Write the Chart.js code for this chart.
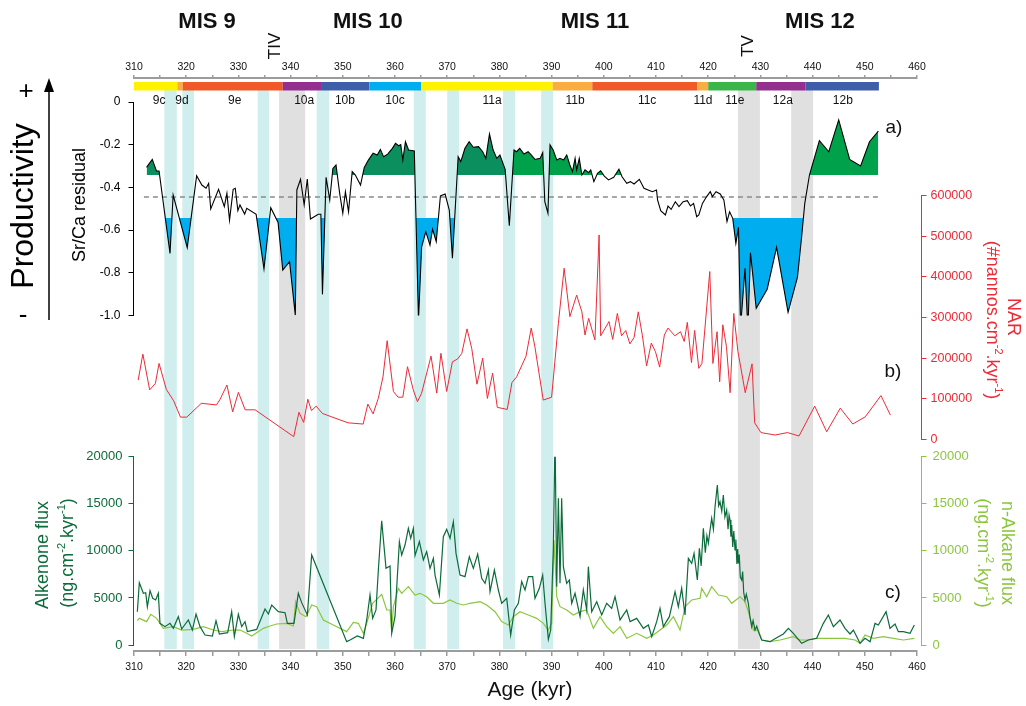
<!DOCTYPE html>
<html>
<head>
<meta charset="utf-8">
<script src="https://cdn.jsdelivr.net/npm/chart.js@4.4.1/dist/chart.umd.min.js"></script>
<style>
  html, body { margin: 0; background: #fff; }
  #wrap { position: relative; width: 1026px; height: 706px; }
</style>
</head>
<body>
<div id="wrap"><canvas id="fig" width="1026" height="706"></canvas></div>
<script>
const FONT = "'Liberation Sans', Arial, Helvetica, sans-serif";
Chart.defaults.font.family = FONT;

// ---- a) Sr/Ca residual ----
const srCaAge = [
  312.4, 313.5, 314.3, 314.8, 316.9, 317.5, 320.2, 322.0, 323.0, 323.8, 324.3, 324.7, 326.2, 327.3, 327.8,
  328.3, 329.0, 329.4, 329.9, 330.3, 331.2, 331.6, 333.4, 334.9, 336.2, 337.6, 338.5, 339.8, 340.9, 341.2,
  341.9, 342.6, 343.2, 343.8, 345.3, 345.8, 346.1, 346.8, 347.5, 348.1, 348.7, 349.4, 350.0, 350.5, 351.1,
  351.8, 352.4, 353.4, 354.1, 354.9, 355.8, 356.6, 357.2, 357.8, 358.6, 359.5, 360.1, 360.7, 361.1, 361.5,
  362.0, 362.6, 363.7, 364.5, 365.1, 365.9, 366.7, 367.2, 367.9, 368.7, 369.6, 370.4, 371.0, 372.1, 372.6,
  373.4, 374.2, 375.0, 376.0, 376.8, 377.4, 378.1, 378.8, 379.5, 380.1, 381.1, 381.9, 382.8, 383.3, 383.9,
  384.7, 385.5, 386.1, 386.8, 387.8, 388.3, 388.7, 389.3, 389.7, 390.3, 391.0, 391.6, 392.3, 392.9, 393.5,
  394.0, 394.5, 394.8, 395.3, 395.8, 396.4, 397.1, 397.5, 398.1, 398.8, 399.4, 400.1, 400.9, 401.9, 402.9,
  403.5, 404.4, 405.1, 405.8, 406.8, 407.7, 409.3, 410.1, 410.3, 410.9, 411.8, 412.3, 412.9, 413.7, 414.4,
  415.2, 416.0, 416.6, 417.2, 417.8, 418.2, 418.9, 419.7, 420.4, 420.8, 421.5, 422.3, 423.0, 423.6, 424.1,
  424.7, 425.3, 425.8, 426.2, 427.05, 427.6, 428.1, 429.2, 431.3, 433.1, 435.3, 437.1, 437.9, 438.5, 439.4,
  441.3, 443.1, 445.0, 447.1, 449.2, 450.9, 452.6
];
const srCaResidual = [
  -0.306, -0.269, -0.323, -0.323, -0.709, -0.436, -0.682, -0.345, -0.389, -0.404, -0.381, -0.501, -0.409, -0.490, -0.428,
  -0.553, -0.409, -0.404, -0.509, -0.482, -0.525, -0.498, -0.526, -0.782, -0.495, -0.564, -0.787, -0.748, -0.998, -0.412,
  -0.362, -0.482, -0.361, -0.548, -0.526, -0.526, -0.901, -0.353, -0.459, -0.311, -0.295, -0.428, -0.521, -0.420, -0.514,
  -0.326, -0.342, -0.389, -0.308, -0.272, -0.240, -0.248, -0.222, -0.256, -0.244, -0.217, -0.194, -0.205, -0.200, -0.272,
  -0.186, -0.225, -0.229, -1.021, -0.678, -0.607, -0.670, -0.596, -0.654, -0.440, -0.431, -0.506, -0.732, -0.256, -0.279,
  -0.217, -0.186, -0.212, -0.209, -0.233, -0.264, -0.150, -0.225, -0.264, -0.248, -0.315, -0.579, -0.225, -0.233, -0.217,
  -0.244, -0.233, -0.248, -0.269, -0.264, -0.237, -0.467, -0.521, -0.201, -0.225, -0.272, -0.264, -0.272, -0.248, -0.295,
  -0.326, -0.264, -0.318, -0.264, -0.342, -0.318, -0.331, -0.318, -0.373, -0.334, -0.322, -0.347, -0.365, -0.353, -0.315,
  -0.350, -0.381, -0.373, -0.384, -0.362, -0.404, -0.420, -0.412, -0.459, -0.509, -0.529, -0.487, -0.503, -0.467, -0.490,
  -0.467, -0.462, -0.487, -0.475, -0.537, -0.529, -0.475, -0.443, -0.420, -0.443, -0.420, -0.431, -0.459, -0.560, -0.514,
  -0.545, -0.662, -0.587, -1.055, -0.779, -1.068, -0.706, -0.966, -0.877, -0.681, -0.985, -0.820, -0.631, -0.475, -0.342,
  -0.181, -0.233, -0.084, -0.269, -0.300, -0.186, -0.136
];
const srCaMean = -0.445;
const srCaMeanSpan = [311.9, 452.6];
const highLevel = -0.342;   // green fill above this
const lowLevel = -0.5433;   // blue fill below this
const greenSplitAge = 381.9;

// ---- b) nannofossil accumulation rate ----
const narAge = [
  310.8, 311.7, 313.0, 314.1, 314.8, 316.2, 317.6, 318.9, 320.1, 322.9, 325.8, 326.5, 327.8, 328.9, 330.0,
  331.3, 333.2, 340.6, 341.6, 342.5, 343.3, 344.0, 344.9, 346.1, 351.0, 353.9, 354.8, 355.8, 356.8, 357.7,
  358.5, 359.7, 360.6, 361.5, 362.4, 363.5, 364.3, 365.1, 366.9, 368.0, 368.8, 369.9, 371.0, 372.0, 372.8,
  373.8, 374.7, 375.7, 376.8, 377.7, 378.7, 379.6, 381.5, 382.4, 383.3, 385.1, 386.1, 386.8, 388.4, 390.0,
  391.3, 392.4, 393.5, 394.8, 395.8, 396.4, 397.1, 398.3, 399.1, 399.4, 401.0, 401.7, 402.6, 403.4, 404.2,
  405.0, 405.8, 406.6, 407.4, 408.2, 409.1, 409.9, 410.7, 411.6, 412.3, 413.6, 414.7, 415.4, 416.0, 416.8,
  417.4, 418.2, 418.8, 420.3, 420.9, 421.7, 422.2, 422.8, 423.5, 424.2, 424.9, 425.7, 427.1, 428.4, 428.9,
  430.1, 432.8, 435.2, 437.4, 440.4, 442.7, 445.3, 447.7, 450.1, 453.1, 454.9
];
const narFlux = [
  146000, 210000, 122000, 138000, 187000, 123000, 95000, 55000, 55000, 89000, 85000, 99000, 134000, 68000, 116000,
  73000, 73000, 7000, 67000, 42000, 99000, 71000, 82000, 64000, 41000, 38000, 87000, 63000, 101000, 154000,
  243000, 118000, 104000, 104000, 179000, 122000, 93000, 114000, 205000, 114000, 212000, 118000, 191000, 198000, 212000,
  272000, 224000, 136000, 200000, 101000, 163000, 79000, 74000, 140000, 154000, 205000, 274000, 228000, 97000, 104000,
  286000, 421000, 302000, 355000, 314000, 257000, 298000, 245000, 503000, 255000, 290000, 246000, 310000, 255000, 268000,
  235000, 251000, 314000, 255000, 181000, 237000, 216000, 178000, 257000, 274000, 255000, 265000, 241000, 288000, 189000,
  268000, 175000, 187000, 413000, 187000, 265000, 142000, 282000, 228000, 115000, 310000, 216000, 115000, 186000, 41000,
  17000, 11000, 17000, 8600, 82000, 19000, 77000, 38000, 56000, 108000, 60000
];

// ---- c) alkenone and n-alkane fluxes ----
const alkenoneAge = [
  310.64, 311.02, 311.79, 312.24, 312.56, 313.07, 313.58, 314.15, 314.66, 314.98, 315.94, 316.90, 317.54, 318.49, 319.13,
  320.41, 321.18, 321.88, 322.65, 323.60, 325.01, 325.71, 326.35, 327.95, 328.71, 329.22, 329.99, 330.63, 331.27, 331.72,
  333.50, 335.10, 335.74, 336.38, 337.65, 338.93, 339.38, 340.65, 341.48, 342.12, 343.21, 344.04, 350.74, 351.38, 352.79,
  353.94, 354.58, 355.21, 355.72, 356.36, 356.81, 357.45, 358.28, 359.05, 359.37, 360.00, 360.84, 361.28, 361.92, 362.56,
  363.01, 363.52, 363.84, 364.67, 365.43, 366.07, 366.71, 367.35, 367.67, 368.50, 369.26, 369.90, 370.54, 371.18, 371.69,
  372.46, 373.41, 374.24, 375.01, 375.84, 376.61, 377.25, 377.89, 378.20, 379.04, 379.80, 380.44, 381.40, 382.16, 382.87,
  383.63, 384.27, 384.91, 385.55, 386.38, 386.82, 387.65, 388.29, 388.74, 389.38, 389.83, 390.34, 390.66, 390.98, 391.30,
  391.61, 391.93, 392.25, 392.89, 393.40, 393.85, 394.49, 395.45, 396.08, 396.72, 397.04, 397.68, 398.64, 399.60, 400.55,
  401.51, 402.15, 403.11, 404.39, 405.03, 406.30, 407.58, 408.54, 409.18, 410.13, 410.77, 411.41, 412.56, 413.65, 414.28,
  414.92, 415.56, 416.20, 416.84, 417.29, 417.92, 418.31, 418.65, 419.07, 419.45, 419.75, 420.03, 420.35, 420.67, 421.00,
  421.31, 421.75, 422.00, 422.26, 422.60, 422.90, 423.20, 423.54, 423.80, 424.00, 424.18, 424.35, 424.50, 424.70, 424.90,
  425.14, 425.30, 425.50, 425.65, 425.78, 425.95, 426.15, 426.42, 426.60, 426.80, 427.05, 427.30, 427.69, 428.00, 428.33,
  428.60, 428.97, 429.30, 429.61, 430.25, 431.84, 433.44, 434.40, 435.36, 436.31, 437.91, 439.19, 440.78, 442.06, 443.02,
  443.98, 445.25, 446.21, 447.17, 447.81, 449.09, 450.05, 451.01, 451.96, 452.60, 454.07, 454.83, 455.79, 456.43, 457.39,
  458.67, 459.49
];
const alkenoneFlux = [
  3540, 6620, 5490, 5560, 4070, 5770, 4960, 4780, 5490, 2300, 1950, 2300, 1770, 3010, 1700,
  2660, 1590, 3290, 1950, 1060, 950, 2580, 1170, 1310, 3540, 890, 3260, 1950, 2480, 1420,
  1660, 3820, 3290, 4250, 3540, 3430, 2300, 2300, 5490, 4500, 3190, 9560, 355, 530, 960,
  710, 2660, 5310, 2830, 3720, 7960, 13200, 8140, 8390, 1240, 3010, 10970, 9560, 10620, 12390,
  11330, 12390, 9500, 10970, 9030, 9910, 8140, 9200, 7430, 5310, 11500, 12280, 11330, 13100, 9730,
  7430, 7260, 9380, 8140, 9660, 7080, 6550, 7960, 5660, 7960, 5840, 4430, 4960, 1060, 3720,
  4430, 6730, 5840, 7260, 7260, 4960, 6020, 7430, 4430, 600, 1590, 10440, 22480, 6190, 15580,
  6550, 15580, 8320, 6550, 6900, 4430, 5490, 3010, 5840, 3720, 8320, 3540, 4600, 3190, 4430,
  3890, 5130, 2660, 3720, 2480, 2830, 1770, 2120, 880, 2480, 3890, 1950, 3010, 5660, 4070,
  6020, 3190, 9200, 8670, 9730, 6900, 10270, 8400, 12390, 9800, 11600, 10800, 12200, 13450, 12300,
  14690, 16990, 14800, 15220, 14200, 15930, 13600, 14340, 12300, 13800, 13270, 11500, 12740, 10400, 12100,
  10090, 11200, 8600, 10200, 8670, 9600, 7200, 6900, 7800, 5600, 4780, 5400, 4430, 3000, 1950,
  2600, 1590, 2000, 1420, 530, 350, 880, 1170, 1770, 1240, 180, 530, 710, 2300, 3190,
  1950, 2660, 1770, 1170, 1590, 180, 710, 350, 2300, 2120, 3540, 1770, 2230, 1420, 1420,
  1240, 2120
];
const alkaneAge = [
  310.64, 311.02, 312.43, 313.20, 314.34, 315.62, 317.54, 319.13, 321.37, 323.29, 325.20, 326.80, 329.03, 330.31, 331.59,
  332.55, 334.78, 336.06, 337.33, 339.25, 340.53, 340.97, 341.80, 342.95, 344.04, 345.00, 346.27, 348.19, 350.74, 352.02,
  352.98, 353.94, 354.58, 355.72, 357.45, 358.41, 359.05, 359.37, 359.69, 360.64, 361.28, 362.56, 363.84, 364.79, 366.07,
  367.35, 369.26, 370.54, 371.82, 373.10, 374.37, 376.29, 377.57, 379.16, 380.44, 381.72, 382.67, 383.95, 385.55, 387.14,
  388.42, 389.38, 390.02, 390.46, 390.98, 391.61, 392.89, 394.17, 395.45, 396.72, 398.00, 399.28, 400.55, 401.83, 403.11,
  404.39, 406.30, 408.22, 409.50, 410.77, 412.05, 413.33, 414.60, 415.56, 416.84, 418.44, 418.75, 419.71, 420.67, 421.95,
  423.54, 424.50, 426.10, 427.05, 427.69, 428.65, 429.61, 430.25, 431.84, 433.76, 436.31, 437.59, 438.87, 440.78, 442.70,
  444.30, 446.21, 448.13, 449.09, 450.05, 451.65, 453.56, 455.47, 457.39, 459.49
];
const alkaneFlux = [
  2580, 2830, 2480, 3260, 2830, 1770, 1950, 1590, 1660, 1950, 1590, 1420, 1590, 1590, 1240,
  960, 1770, 2020, 2230, 2300, 2020, 4600, 3360, 3010, 4250, 4070, 2660, 2120, 1420, 2410,
  2300, 1240, 2300, 4430, 5380, 3720, 3720, 1420, 4070, 6020, 5490, 6200, 5310, 5490, 5130,
  4430, 4430, 4780, 4430, 4250, 4430, 4600, 4250, 3540, 2480, 2120, 3010, 3540, 3190, 2830,
  2300, 1590, 2300, 11150, 5130, 4070, 3720, 3190, 3540, 3720, 1770, 3010, 1950, 1240, 1950,
  710, 1240, 710, 1060, 1590, 2120, 3010, 1590, 4070, 4780, 4960, 6020, 5130, 6200, 5310,
  5130, 4430, 5130, 4600, 3540, 1590, 1590, 530, 350, 530, 880, 530, 530, 710, 710,
  710, 710, 530, 180, 1060, 710, 880, 710, 530, 710
];

// ---- stratigraphy ----
const cyanBands = [[315.8, 318.2], [319.25, 321.5], [333.7, 335.9], [345.0, 347.4], [363.6, 365.9],
                   [370.0, 372.3], [380.7, 383.0], [388.0, 390.3]];
const greyBands = [[337.8, 342.8], [425.7, 429.9], [435.9, 440.1]];
const misEdges = [310, 318.3, 319.35, 338.5, 346.0, 355.1, 365.0, 390.2, 397.8, 417.9, 420.0, 429.2, 438.6, 452.7];
const misColours = ['#fff200', '#fbad42', '#f05a28', '#93308f', '#3e5eaa', '#00aeef', '#fff200',
                    '#fbad42', '#f05a28', '#fbad42', '#39b54a', '#93308f', '#3e5eaa'];
const subStages = ['9c', '9d', '9e', '10a', '10b', '10c', '11a', '11b', '11c', '11d', '11e', '12a', '12b'];
const subStageAge = [314.8, 319.2, 329.3, 342.6, 350.4, 360.0, 378.6, 394.5, 408.3, 419.0, 425.1, 434.3, 445.8];
const misNames = ['MIS 9', 'MIS 10', 'MIS 11', 'MIS 12'];
const misNameAge = [324.0, 354.8, 398.3, 441.4];
const terminations = [['TIV', 337.1], ['TV', 427.6]];

const pts = (xs, ys) => xs.map((x, i) => ({ x, y: ys[i] }));
const srCaPts = pts(srCaAge, srCaResidual);

const RED = '#ed2b37', DARK = '#0b6b3a', LIGHT = '#8cc63f';
const CLEAR = 'rgba(0,0,0,0)';

// y axes share one chart area; each one is moved onto its own panel band
const placeAxes = {
  id: 'placeAxes',
  afterLayout(chart) {
    const s = chart.scales;
    const put = (sc, l, t, r, b) => {
      sc.left = l; sc.top = t; sc.right = r; sc.bottom = b;
      sc.width = r - l; sc.height = b - t;
      sc.configure();
    };
    put(s.ya, 60, 102, 133.5, 315.5);
    put(s.yb, 921.5, 195.5, 990, 439.5);
    put(s.yc, 60, 456.7, 133.5, 645);
    put(s.yd, 921.5, 456.7, 990, 645);
    put(s.x, s.x.left, 651, s.x.right, 690);
    put(s.xt, s.xt.left, 50, s.xt.right, 78);
  }
};

function richText(ctx, parts, cx, cy, rot, size, colour, bold) {
  ctx.save();
  ctx.translate(cx, cy);
  ctx.rotate(rot);
  ctx.fillStyle = colour;
  ctx.textBaseline = 'middle';
  ctx.textAlign = 'left';
  const w = bold ? 'bold ' : '';
  const main = `${w}${size}px ${FONT}`, sup = `${Math.round(size * 0.62)}px ${FONT}`;
  let total = 0;
  for (const [t, s] of parts) { ctx.font = s ? sup : main; total += ctx.measureText(t).width; }
  let x = -total / 2;
  for (const [t, s] of parts) {
    ctx.font = s ? sup : main;
    ctx.fillText(t, x, s ? -size * 0.36 : 0);
    x += ctx.measureText(t).width;
  }
  ctx.restore();
}
const plain = (t) => [[t, 0]];
const fluxUnit = [['(ng.cm', 0], ['-2', 1], ['.kyr', 0], ['-1', 1], [')', 0]];
const narUnit = [['(#nannos.cm', 0], ['-2', 1], ['.kyr', 0], ['-1', 1], [')', 0]];

const decor = {
  id: 'decor',
  beforeDraw(chart) {
    const { ctx } = chart;
    const x = chart.scales.x;
    const px = (v) => x.getPixelForValue(v);
    ctx.save();
    ctx.fillStyle = '#fff';
    ctx.fillRect(0, 0, chart.width, chart.height);
    ctx.fillStyle = '#d0eeee';
    for (const [a, b] of cyanBands) ctx.fillRect(px(a), 90, px(b) - px(a), 559);
    ctx.fillStyle = '#e0e0e0';
    for (const [a, b] of greyBands) ctx.fillRect(px(a), 90, px(b) - px(a), 559);
    for (let i = 0; i < misColours.length; i++) {
      ctx.fillStyle = misColours[i];
      ctx.fillRect(px(misEdges[i]), 82, px(misEdges[i + 1]) - px(misEdges[i]), 8.5);
    }
    ctx.restore();
  },
  afterDraw(chart) {
    const { ctx } = chart;
    const x = chart.scales.x;
    const px = (v) => x.getPixelForValue(v);
    ctx.save();
    ctx.fillStyle = '#111';
    ctx.textAlign = 'center';
    ctx.textBaseline = 'middle';
    ctx.font = `bold 22px ${FONT}`;
    misNames.forEach((m, i) => ctx.fillText(m, px(misNameAge[i]), 22));
    ctx.font = `12px ${FONT}`;
    subStages.forEach((m, i) => ctx.fillText(m, px(subStageAge[i]), 101));
    for (const [t, a] of terminations) richText(ctx, plain(t), px(a), 46, -Math.PI / 2, 17, '#111');
    ctx.font = `19px ${FONT}`;
    ctx.fillText('a)', 894, 128);
    ctx.fillText('b)', 893, 372);
    ctx.fillText('c)', 893, 593);
    ctx.font = `21px ${FONT}`;
    ctx.fillText('Age (kyr)', 530, 690);

    // productivity arrow
    ctx.strokeStyle = '#000';
    ctx.lineWidth = 1.5;
    ctx.beginPath(); ctx.moveTo(49, 320); ctx.lineTo(49, 88); ctx.stroke();
    ctx.fillStyle = '#000';
    ctx.beginPath(); ctx.moveTo(49, 78); ctx.lineTo(44, 92); ctx.lineTo(54, 92); ctx.closePath(); ctx.fill();
    ctx.font = `26px ${FONT}`;
    ctx.fillText('+', 26, 92);
    ctx.fillText('-', 23, 316);
    richText(ctx, plain('Productivity'), 24, 206, -Math.PI / 2, 32, '#000');

    // axis titles
    richText(ctx, plain('Sr/Ca residual'), 80, 205, -Math.PI / 2, 18, '#000');
    richText(ctx, plain('NAR'), 1013, 317, Math.PI / 2, 18, RED);
    richText(ctx, narUnit, 992, 320, Math.PI / 2, 18, RED);
    richText(ctx, plain('Alkenone flux'), 43, 555, -Math.PI / 2, 18, DARK);
    richText(ctx, fluxUnit, 68, 553, -Math.PI / 2, 18, DARK);
    richText(ctx, plain('n-Alkane flux'), 1007, 553, Math.PI / 2, 18, LIGHT);
    richText(ctx, fluxUnit, 983, 553, Math.PI / 2, 18, LIGHT);
    ctx.restore();
  }
};

const noWidth = (s) => { s.width = 0; };
const noHeight = (s) => { s.height = 0; };
const oneDecimal = (v) => (v === 0 ? '0' : v.toFixed(1));

function yAxis(position, min, max, step, colour, size, pad, fmt) {
  return {
    type: 'linear', position, min, max,
    afterFit: noWidth,
    border: { color: colour, width: 1 },
    grid: { drawOnChartArea: false, color: colour, tickLength: 5, lineWidth: 1 },
    ticks: { stepSize: step, color: colour, font: { size }, padding: pad, autoSkip: false, callback: fmt || ((v) => v) }
  };
}
function xAxis(position, tick, pad) {
  return {
    type: 'linear', position, min: 310, max: 460,
    afterFit: noHeight,
    border: { color: '#9c9c9c', width: 2 },
    grid: { drawOnChartArea: false, color: '#9c9c9c', tickLength: tick, lineWidth: 1.5 },
    ticks: { stepSize: 5, autoSkip: false, maxRotation: 0, color: '#111', font: { size: 10.5 }, padding: pad,
             callback: (v) => (v % 10 === 0 ? v : '') }
  };
}

const line = (data, yAxisID, colour, width) => ({
  data, yAxisID, borderColor: colour, borderWidth: width, pointRadius: 0, fill: false, tension: 0
});
const shade = (data, level, above, below) => ({
  data, yAxisID: 'ya', borderWidth: 0, pointRadius: 0, tension: 0,
  fill: { target: { value: level }, above, below }
});

new Chart(document.getElementById('fig'), {
  type: 'line',
  data: {
    datasets: [
      line(srCaPts, 'ya', '#000', 1.1),
      {
        data: srCaMeanSpan.map((a) => ({ x: a, y: srCaMean })), yAxisID: 'ya',
        borderColor: '#8a8a8a', borderWidth: 1.6, borderDash: [5, 4], pointRadius: 0, fill: false
      },
      shade(srCaPts.filter((p) => p.x <= greenSplitAge), highLevel, '#0c8f5e', CLEAR),
      shade(srCaPts.filter((p) => p.x >= greenSplitAge), highLevel, '#00a14b', CLEAR),
      shade(srCaPts, lowLevel, CLEAR, '#00aeef'),
      line(pts(narAge, narFlux), 'yb', RED, 1),
      line(pts(alkenoneAge, alkenoneFlux), 'yc', DARK, 1.2),
      line(pts(alkaneAge, alkaneFlux), 'yd', LIGHT, 1.2)
    ]
  },
  options: {
    responsive: false,
    animation: false,
    events: [],
    layout: { padding: { left: 134, right: 109, top: 92, bottom: 55 } },
    plugins: { legend: { display: false }, tooltip: { enabled: false } },
    scales: {
      x: xAxis('bottom', 5, 5),
      xt: xAxis('top', 3, 2),
      ya: yAxis('left', -1, 0, 0.2, '#000', 12, 8, oneDecimal),
      yb: yAxis('right', 0, 600000, 100000, RED, 12.5, 4),
      yc: yAxis('left', 0, 20000, 5000, DARK, 13, 6),
      yd: yAxis('right', 0, 20000, 5000, LIGHT, 13, 6)
    }
  },
  plugins: [placeAxes, decor]
});
</script>
</body>
</html>
